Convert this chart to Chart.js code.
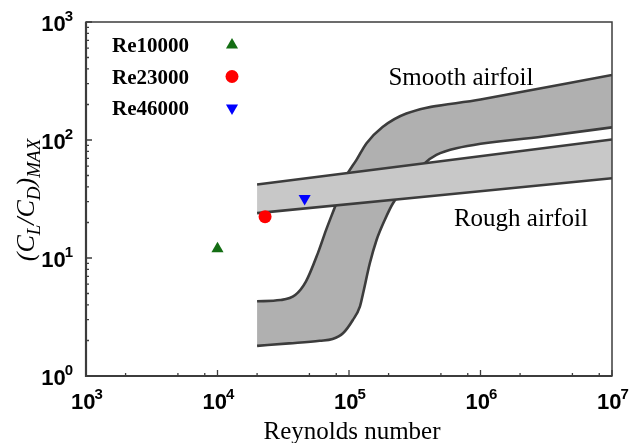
<!DOCTYPE html>
<html>
<head>
<meta charset="utf-8">
<script src="https://cdn.jsdelivr.net/npm/chart.js@4/dist/chart.umd.min.js"></script>
<style>
  html, body { margin: 0; padding: 0; background: #fff; }
</style>
</head>
<body>
<canvas id="chart" width="634" height="443"></canvas>
<script>
// smooth airfoil band, upper (left) and lower (right) boundaries
const smoothUpperRe = [2.0e4, 3.0e4, 3.9e4, 4.7e4, 5.8e4, 6.7e4, 8.0e4, 9.5e4, 1.14e5, 1.36e5, 1.8e5, 2.73e5, 1e6, 1e7];
const smoothUpperLD = [4.3, 4.4, 4.85, 6.3, 11.0, 17.3, 29, 48.9, 67.8, 94, 129, 168, 220, 356];
const smoothLowerRe = [2.0e4, 3.5e4, 6.0e4, 7.5e4, 9.0e4, 1.07e5, 1.21e5, 1.28e5, 1.44e5, 1.62e5, 1.87e5, 2.16e5, 3.0e5, 3.77e5, 4.62e5, 6.56e5, 3e6, 1e7];
const smoothLowerLD = [1.80, 1.89, 1.99, 2.06, 2.30, 2.98, 3.87, 5.02, 9.02, 14.2, 21.0, 29.1, 46, 63.5, 74.7, 85.1, 107, 128];

// rough airfoil band
const roughUpperRe = [2.0e4, 1e7];
const roughUpperLD = [42, 101];
const roughLowerRe = [2.0e4, 1e7];
const roughLowerLD = [24, 47.4];

// measured points
const pointLabels = ['Re10000', 'Re23000', 'Re46000'];
const pointRe = [1.0e4, 2.3e4, 4.6e4];
const pointLD = [12, 22.4, 32];
const pointColors = ['rgb(20,110,20)', '#ff0000', '#0000ff'];
const pointShapes = ['triangle', 'circle', 'triangle'];
const pointRotations = [0, 0, 180];

// axis ticks
const xDecades = [3, 4, 5, 6, 7];
const xMinorMults = [2, 5, 8];
const yDecades = [0, 1, 2, 3];
const yMinorMults = [2, 3, 4, 5, 6, 7, 8, 9];

const bandLabels = [
    { text: 'Smooth airfoil', re: 7.1e5, ld: 292 },
    { text: 'Rough airfoil', re: 2.03e6, ld: 18.7 }
];

const SERIF = '"Liberation Serif", "Times New Roman", serif';
const SANS = '"Liberation Sans", Arial, sans-serif';
const EDGE = '#3c3c3c';

function toXY(xs, ys) {
    return xs.map((x, i) => ({ x: x, y: ys[i] }));
}

function bandLine(xs, ys, fillTarget, fillColor, order) {
    return {
        type: 'line',
        data: toXY(xs, ys),
        borderColor: EDGE,
        borderWidth: 2.6,
        backgroundColor: fillColor,
        fill: fillTarget,
        pointRadius: 0,
        cubicInterpolationMode: 'monotone',
        order: order
    };
}

const datasets = [
    bandLine(smoothUpperRe, smoothUpperLD, 1, '#b0b0b0', 5),
    bandLine(smoothLowerRe, smoothLowerLD, false, '#b0b0b0', 4),
    bandLine(roughUpperRe, roughUpperLD, 3, '#c8c8c8', 3),
    bandLine(roughLowerRe, roughLowerLD, false, '#c8c8c8', 2)
];

pointLabels.forEach((label, i) => {
    datasets.push({
        type: 'scatter',
        label: label,
        data: [{ x: pointRe[i], y: pointLD[i] }],
        pointStyle: pointShapes[i],
        rotation: pointRotations[i],
        pointRadius: pointShapes[i] === 'circle' ? 6.5 : 7,
        pointBackgroundColor: pointColors[i],
        pointBorderColor: pointColors[i],
        pointBorderWidth: 0,
        showLine: false,
        isPoint: true,
        order: 0
    });
});

function drawPower(ctx, exp, x, baseY, align) {
    const big = 'bold 22px ' + SANS;
    const small = 'bold 15px ' + SANS;
    ctx.font = big;
    const wb = ctx.measureText('10').width - 1;
    ctx.font = small;
    const we = ctx.measureText(String(exp)).width;
    const start = align === 'center' ? x - (wb + we) / 2 : x - (wb + we);
    ctx.textAlign = 'left';
    ctx.textBaseline = 'alphabetic';
    ctx.font = big;
    ctx.fillText('10', start, baseY);
    ctx.font = small;
    ctx.fillText(String(exp), start + wb, baseY - 10);
}

const decorPlugin = {
    id: 'decor',
    afterDraw(chart) {
        const ctx = chart.ctx;
        const a = chart.chartArea;
        const xs = chart.scales.x;
        const ys = chart.scales.y;
        ctx.save();

        // frame
        ctx.strokeStyle = EDGE;
        ctx.lineWidth = 1.5;
        ctx.strokeRect(a.left, a.top, a.right - a.left, a.bottom - a.top);
        ctx.lineWidth = 2.2;
        ctx.beginPath();
        ctx.moveTo(a.left, a.top);
        ctx.lineTo(a.left, a.bottom);
        ctx.lineTo(a.right, a.bottom);
        ctx.stroke();

        // inward tick marks
        ctx.lineWidth = 1.3;
        ctx.beginPath();
        xDecades.forEach(e => {
            const px = xs.getPixelForValue(Math.pow(10, e));
            ctx.moveTo(px, a.bottom);
            ctx.lineTo(px, a.bottom - 6);
            if (e < 7) {
                xMinorMults.forEach(m => {
                    const p = xs.getPixelForValue(m * Math.pow(10, e));
                    ctx.moveTo(p, a.bottom);
                    ctx.lineTo(p, a.bottom - 3);
                });
            }
        });
        yDecades.forEach(e => {
            const py = ys.getPixelForValue(Math.pow(10, e));
            ctx.moveTo(a.left, py);
            ctx.lineTo(a.left + 6, py);
            if (e < 3) {
                yMinorMults.forEach(m => {
                    const p = ys.getPixelForValue(m * Math.pow(10, e));
                    ctx.moveTo(a.left, p);
                    ctx.lineTo(a.left + 3, p);
                });
            }
        });
        ctx.stroke();

        // tick labels
        ctx.fillStyle = '#000';
        xDecades.forEach(e => {
            drawPower(ctx, e, xs.getPixelForValue(Math.pow(10, e)) + 1, a.bottom + 33, 'center');
        });
        yDecades.forEach(e => {
            drawPower(ctx, e, a.left - 13, ys.getPixelForValue(Math.pow(10, e)) + 9, 'right');
        });

        // x title
        ctx.font = '25px ' + SERIF;
        ctx.textAlign = 'center';
        ctx.textBaseline = 'alphabetic';
        ctx.fillText('Reynolds number', (a.left + a.right) / 2 + 3, a.bottom + 63);

        // y title with subscripts
        const parts = [['(C', 0], ['L', 1], ['/C', 0], ['D', 1], [')', 0], ['MAX', 1]];
        const mainFont = 'italic 26px ' + SERIF;
        const subFont = 'italic 19px ' + SERIF;
        let total = 0;
        parts.forEach(p => {
            ctx.font = p[1] ? subFont : mainFont;
            total += ctx.measureText(p[0]).width;
        });
        ctx.save();
        ctx.translate(34, (a.top + a.bottom) / 2 + 1);
        ctx.rotate(-Math.PI / 2);
        ctx.textAlign = 'left';
        let cx = -total / 2;
        parts.forEach(p => {
            ctx.font = p[1] ? subFont : mainFont;
            ctx.fillText(p[0], cx, p[1] ? 6 : 0);
            cx += ctx.measureText(p[0]).width;
        });
        ctx.restore();

        // band labels
        ctx.font = '25px ' + SERIF;
        ctx.textAlign = 'center';
        bandLabels.forEach(b => {
            ctx.fillText(b.text, xs.getPixelForValue(b.re), ys.getPixelForValue(b.ld));
        });

        // legend (text then marker) inside the plot
        let row = 0;
        chart.data.datasets.forEach(ds => {
            if (!ds.isPoint) return;
            const cy = a.top + 23 + row * 31.5;
            ctx.font = 'bold 21px ' + SERIF;
            ctx.textAlign = 'left';
            ctx.fillStyle = '#000';
            ctx.fillText(ds.label, a.left + 26, cy + 7);
            ctx.fillStyle = ds.pointBackgroundColor;
            ctx.strokeStyle = ds.pointBorderColor;
            Chart.helpers.drawPoint(ctx, {
                pointStyle: ds.pointStyle,
                rotation: ds.rotation,
                radius: ds.pointRadius,
                borderWidth: 0
            }, a.left + 146, cy);
            row++;
        });

        ctx.restore();
    }
};

new Chart(document.getElementById('chart').getContext('2d'), {
    type: 'line',
    data: { datasets: datasets },
    options: {
        responsive: false,
        animation: false,
        devicePixelRatio: 1,
        layout: { padding: { left: 86, right: 22, top: 22, bottom: 67 } },
        plugins: {
            legend: { display: false },
            tooltip: { enabled: false }
        },
        scales: {
            x: { type: 'logarithmic', min: 1e3, max: 1e7, display: false },
            y: { type: 'logarithmic', min: 1, max: 1e3, display: false }
        }
    },
    plugins: [decorPlugin]
});
</script>
</body>
</html>
